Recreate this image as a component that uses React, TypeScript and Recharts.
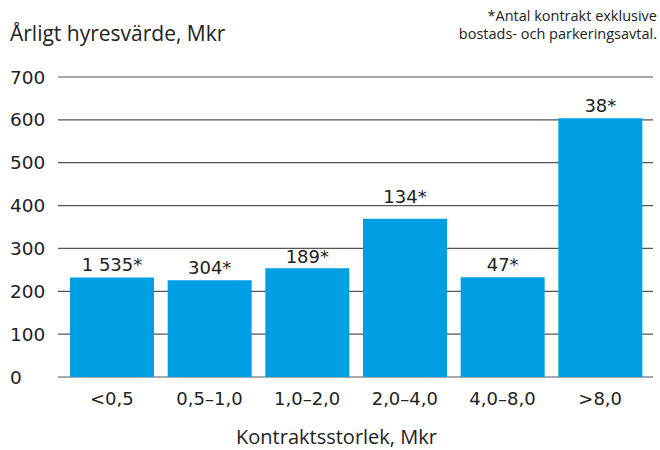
import React from 'react';
import { BarChart, Bar, XAxis, YAxis, CartesianGrid, LabelList, Label } from 'recharts';

const categories = ['<0,5', '0,5–1,0', '1,0–2,0', '2,0–4,0', '4,0–8,0', '>8,0'];
const values = [232, 226, 254, 369, 233, 604];
const counts = ['1 535*', '304*', '189*', '134*', '47*', '38*'];
const yTicks = [0, 100, 200, 300, 400, 500, 600, 700];

const yTitle = 'Årligt hyresvärde, Mkr';
const xTitle = 'Kontraktsstorlek, Mkr';
const noteLines = ['*Antal kontrakt exklusive', 'bostads- och parkeringsavtal.'];

const data = categories.map((c, i) => ({ category: c, value: values[i], count: counts[i] }));

const WORD_FONT = '"Open Sans", Lato, sans-serif';
const NUM_FONT = '"DejaVu Sans", "Open Sans", sans-serif';
const TEXT = '#222222';
const BLUE = '#009FE3';
const GRID = '#555555';
const LABEL_GAPS = [7, 6, 5, 16, 6, 6];

const YTick = (props: any) => {
  const { y, payload } = props;
  return (
    <text x={10} y={y} dy={6.5} textAnchor="start" fontSize={18.5} fill={TEXT} fontFamily={NUM_FONT}>
      {payload.value}
    </text>
  );
};

const XTick = (props: any) => {
  const { x, payload } = props;
  return (
    <text x={x} y={405} textAnchor="middle" fontSize={18} fill={TEXT} fontFamily={NUM_FONT}>
      {payload.value}
    </text>
  );
};

const TopLabel = (props: any) => {
  const { x, y, width, value, index } = props;
  return (
    <text x={x + width / 2} y={y - LABEL_GAPS[index]} textAnchor="middle" fontSize={18} fill={TEXT} fontFamily={NUM_FONT}>
      {value}
    </text>
  );
};

export default function App() {
  return (
    <div style={{ position: 'absolute', left: 0, top: 0, width: 660, height: 450, background: '#fff' }}>
      <svg width={660} height={60} style={{ position: 'absolute', left: 0, top: 0 }}>
        <text x={10} y={41} fontSize={21} fill={TEXT} fontFamily={WORD_FONT}>
          {yTitle}
        </text>
        <text x={657} y={21} fontSize={14.5} fill={TEXT} fontFamily={WORD_FONT} textAnchor="end">
          {noteLines[0]}
        </text>
        <text x={657} y={39} fontSize={14.5} fill={TEXT} fontFamily={WORD_FONT} textAnchor="end">
          {noteLines[1]}
        </text>
      </svg>
      <BarChart
        width={660}
        height={450}
        data={data}
        margin={{ top: 77, right: 7, bottom: 0, left: 10 }}
        barSize={84}
      >
        <CartesianGrid vertical={false} stroke={GRID} strokeWidth={1.2} />
        <YAxis
          domain={[0, 700]}
          ticks={yTicks}
          width={48}
          axisLine={false}
          tickLine={false}
          tick={<YTick />}
          interval={0}
        />
        <XAxis
          dataKey="category"
          height={73}
          axisLine={false}
          tickLine={false}
          tick={<XTick />}
          interval={0}
          padding={{ left: 5, right: 4 }}
        >
          <Label value={xTitle} position="insideBottom" offset={6} dx={-19} fontSize={20} fill={TEXT} fontFamily={WORD_FONT} />
        </XAxis>
        <Bar dataKey="value" fill={BLUE} isAnimationActive={false}>
          <LabelList dataKey="count" content={<TopLabel />} />
        </Bar>
      </BarChart>
    </div>
  );
}
